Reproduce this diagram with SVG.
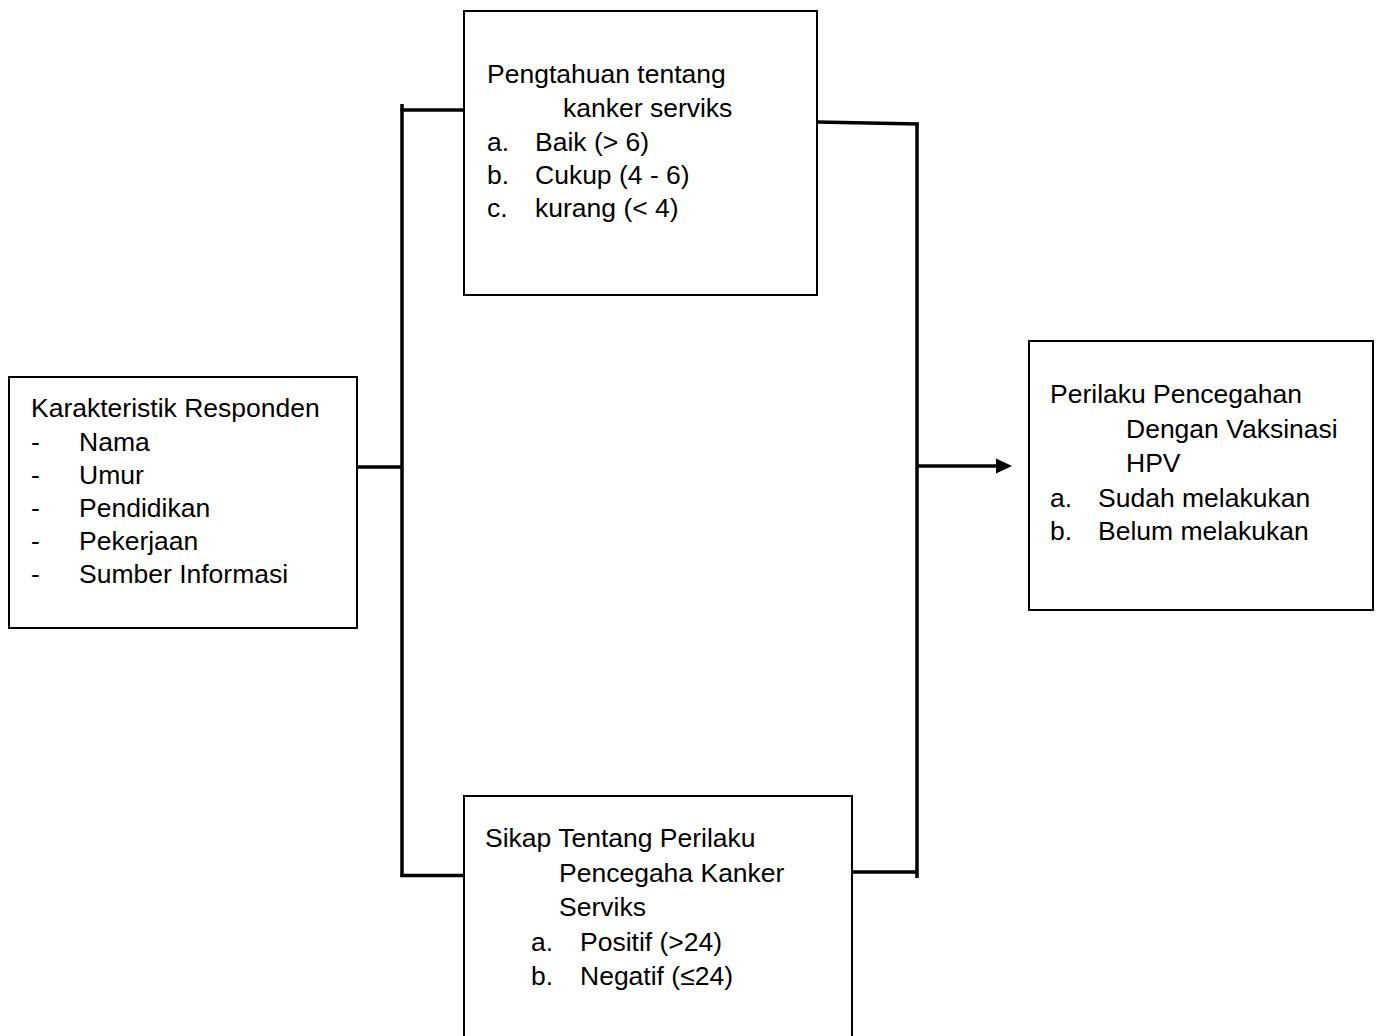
<svg xmlns="http://www.w3.org/2000/svg" width="1378" height="1036" viewBox="0 0 1378 1036">
<style>
.box{fill:#fff;stroke:#000;stroke-width:2}
.t{font-family:"Liberation Sans",Arial,sans-serif;font-size:26.5px;fill:#000}
.c{stroke:#000;stroke-width:3.5;fill:none}
</style>
<rect width="1378" height="1036" fill="#fff"/>
<g id="connectors">
<line class="c" x1="402" y1="104" x2="402" y2="877"/>
<line class="c" x1="400.5" y1="110" x2="464" y2="110"/>
<line class="c" x1="357" y1="467" x2="402" y2="467"/>
<line class="c" x1="400.5" y1="875.5" x2="464" y2="875.5"/>
<line class="c" x1="817" y1="122" x2="918.5" y2="124"/>
<line class="c" x1="917" y1="122.5" x2="917" y2="878"/>
<line class="c" x1="852" y1="872" x2="917" y2="872"/>
<line class="c" x1="917" y1="466" x2="998" y2="466"/>
<polygon points="996,458.5 1012,466 996,473.5" fill="#000"/>
</g>
<g id="karakteristik">
<rect class="box" x="9" y="377" width="348" height="251"/>
<text class="t" x="31" y="417">Karakteristik Responden</text>
<text class="t" x="31" y="451">-</text><text class="t" x="79" y="451">Nama</text>
<text class="t" x="31" y="484">-</text><text class="t" x="79" y="484">Umur</text>
<text class="t" x="31" y="517">-</text><text class="t" x="79" y="517">Pendidikan</text>
<text class="t" x="31" y="550">-</text><text class="t" x="79" y="550">Pekerjaan</text>
<text class="t" x="31" y="583">-</text><text class="t" x="79" y="583">Sumber Informasi</text>
</g>
<g id="pengetahuan">
<rect class="box" x="464" y="11" width="353" height="284"/>
<text class="t" x="487" y="83">Pengtahuan tentang</text>
<text class="t" x="563" y="117">kanker serviks</text>
<text class="t" x="487" y="151">a.</text><text class="t" x="535" y="151">Baik (&gt; 6)</text>
<text class="t" x="487" y="184">b.</text><text class="t" x="535" y="184">Cukup (4 - 6)</text>
<text class="t" x="487" y="217">c.</text><text class="t" x="535" y="217">kurang (&lt; 4)</text>
</g>
<g id="sikap">
<path class="box" d="M464,1040 V796 H852 V1040"/>
<text class="t" x="485" y="847">Sikap Tentang Perilaku</text>
<text class="t" x="559" y="882">Pencegaha Kanker</text>
<text class="t" x="559" y="916">Serviks</text>
<text class="t" x="531" y="951">a.</text><text class="t" x="580" y="951">Positif (&gt;24)</text>
<text class="t" x="531" y="985">b.</text><text class="t" x="580" y="985">Negatif (≤24)</text>
</g>
<g id="perilaku">
<rect class="box" x="1029" y="341" width="344" height="269"/>
<text class="t" x="1050" y="403">Perilaku Pencegahan</text>
<text class="t" x="1126" y="438">Dengan Vaksinasi</text>
<text class="t" x="1126" y="472">HPV</text>
<text class="t" x="1050" y="507">a.</text><text class="t" x="1098" y="507">Sudah melakukan</text>
<text class="t" x="1050" y="540">b.</text><text class="t" x="1098" y="540">Belum melakukan</text>
</g>
</svg>
